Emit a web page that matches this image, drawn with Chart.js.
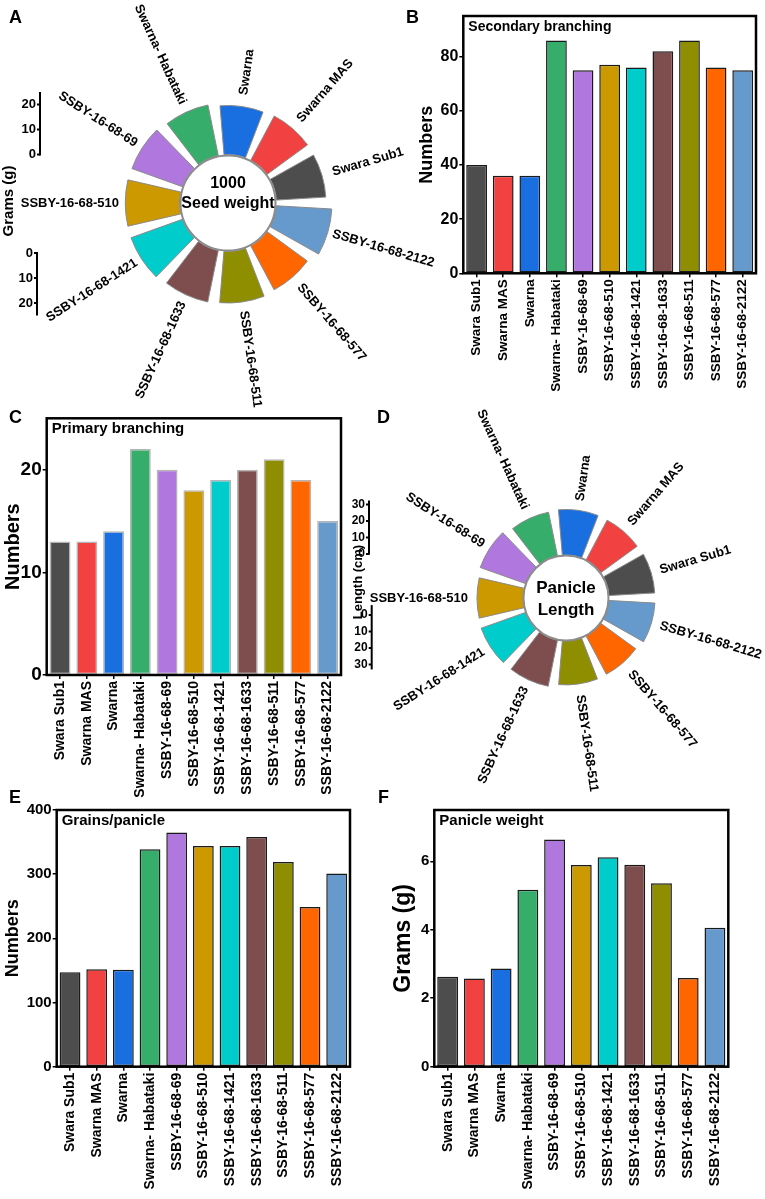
<!DOCTYPE html>
<html>
<head>
<meta charset="utf-8">
<title>Panicle traits</title>
<script src="https://cdn.jsdelivr.net/npm/chart.js@4.4.1/dist/chart.umd.min.js"></script>
<style>
  html, body { margin: 0; padding: 0; background: #fff; }
  #page { position: relative; width: 765px; height: 1199px; overflow: hidden; font-family: 'Liberation Sans', Arial, sans-serif; }
  #page canvas { position: absolute; }
  .tag { position: absolute; font-weight: bold; font-size: 18px; line-height: 18px; color: #000; }
</style>
</head>
<body>
<div id="page">
  <canvas id="seedChart" width="450" height="420" style="left:0;top:0"></canvas>
  <canvas id="secChart" width="349" height="400" style="left:416px;top:0"></canvas>
  <canvas id="primChart" width="379" height="395" style="left:1px;top:405px"></canvas>
  <canvas id="lenChart" width="425" height="400" style="left:340px;top:400px"></canvas>
  <canvas id="grainChart" width="378" height="399" style="left:2px;top:800px"></canvas>
  <canvas id="weightChart" width="375" height="399" style="left:390px;top:800px"></canvas>
  <div class="tag" style="left:9px;top:8px">A</div>
  <div class="tag" style="left:406px;top:8px">B</div>
  <div class="tag" style="left:9px;top:408px">C</div>
  <div class="tag" style="left:377px;top:408px">D</div>
  <div class="tag" style="left:9px;top:788px">E</div>
  <div class="tag" style="left:378px;top:788px">F</div>
</div>
<script>
// ---- data
const categories = ['Swara Sub1', 'Swarna MAS', 'Swarna', 'Swarna- Habataki', 'SSBY-16-68-69',
  'SSBY-16-68-510', 'SSBY-16-68-1421', 'SSBY-16-68-1633', 'SSBY-16-68-511', 'SSBY-16-68-577', 'SSBY-16-68-2122'];
const barColors = ['#4D4D4D', '#F24141', '#1A6FE0', '#36AD6B', '#B078DF', '#CC9900',
  '#00CCCC', '#7E4E4E', '#8E8E00', '#FF6600', '#6699CC'];

const seedWeight = [19.8, 20.0, 19.6, 20.6, 21.4, 21.7, 21.8, 21.0, 20.6, 19.9, 22.2];      // g, panel A
const secondaryBranching = [40, 36, 36, 86, 75, 77, 76, 82, 86, 76, 75];                     // panel B
const primaryBranching = [13, 13, 14, 22, 20, 18, 19, 20, 21, 19, 15];                       // panel C
const panicleLength = [27.8, 27.3, 27.6, 27.0, 29.1, 27.9, 28.5, 28.5, 26.6, 26.2, 27.9];    // cm, panel D
const grainsPerPanicle = [147, 152, 151, 339, 365, 344, 344, 358, 319, 249, 301];            // panel E
const panicleWeight = [2.63, 2.58, 2.87, 5.17, 6.64, 5.89, 6.12, 5.90, 5.36, 2.59, 4.06];    // g, panel F

const seedTicks = [0, 10, 20];
const lengthTicks = [0, 10, 20, 30];

const FONT = "'Liberation Sans', Arial, sans-serif";
Chart.defaults.font.family = FONT;
Chart.defaults.color = '#000';

// frame round the plot area + the title written inside it
function framePlugin(text, size) {
  return {
    id: 'frame',
    afterDraw(chart) {
      const {ctx, chartArea: a} = chart;
      ctx.save();
      ctx.lineWidth = 2.5;
      ctx.strokeStyle = '#000';
      ctx.strokeRect(a.left, a.top, a.right - a.left, a.bottom - a.top);
      ctx.fillStyle = '#000';
      ctx.font = 'bold ' + size + 'px ' + FONT;
      ctx.textAlign = 'left';
      ctx.textBaseline = 'middle';
      ctx.fillText(text, a.left + 5, a.top + 11);
      ctx.restore();
    }
  };
}

function barPanel(id, values, p) {
  const tickGrid = {display: true, drawOnChartArea: false, tickLength: 4, color: '#000', lineWidth: 1.5};
  new Chart(document.getElementById(id), {
    type: 'bar',
    data: {
      labels: categories,
      datasets: [{
        data: values,
        backgroundColor: barColors,
        borderColor: p.barBorder,
        borderWidth: 1.5,
        borderSkipped: false,
        barPercentage: 0.78,
        categoryPercentage: 1
      }]
    },
    options: {
      responsive: false,
      animation: false,
      layout: {padding: {top: p.padTop, right: p.padRight, left: 0, bottom: 0}},
      plugins: {legend: {display: false}, tooltip: {enabled: false}},
      scales: {
        x: {
          grid: Object.assign({offset: false}, tickGrid),
          border: {display: false},
          ticks: {autoSkip: false, maxRotation: 90, minRotation: 90, padding: 2,
            font: {size: p.xFont, weight: 'bold'}},
          afterFit: s => { s.height = p.xH; }
        },
        y: {
          min: 0, max: p.yMax, bounds: 'data',
          grid: tickGrid,
          border: {display: false},
          ticks: {stepSize: p.step, includeBounds: false, padding: 1, font: {size: p.yFont, weight: 'bold'}},
          title: {display: true, text: p.yTitle, padding: 0, font: {size: p.titleFont, weight: 'bold'}},
          // only the round steps get a label, not the top of the range
          afterBuildTicks: s => {
            s.ticks = s.ticks.filter(t => Math.abs(t.value / p.step - Math.round(t.value / p.step)) < 1e-6);
          },
          afterFit: s => { s.width = p.yW; }
        }
      }
    },
    plugins: [framePlugin(p.label, p.labelFont)]
  });
}

// circular bar panels (A, D)
function ringPlugin(cfg) {
  return {
    id: 'ring',
    beforeDatasetsDraw(chart) {
      // turn the polar wedges into bars that start at value 0
      const scale = chart.scales.r;
      const vals = chart.data.datasets[0].data;
      const base = scale.getDistanceFromCenterForValue(0);
      chart.getDatasetMeta(0).data.forEach((arc, i) => {
        arc.innerRadius = base - cfg.gap / 2;
        arc.outerRadius = scale.getDistanceFromCenterForValue(vals[i]) - cfg.gap / 2;
      });
    },
    afterDraw(chart) {
      const ctx = chart.ctx;
      const scale = chart.scales.r;
      const cx = scale.xCenter, cy = scale.yCenter;
      const per10 = scale.getDistanceFromCenterForValue(10) - scale.getDistanceFromCenterForValue(0);
      ctx.save();
      ctx.beginPath();
      ctx.arc(cx, cy, cfg.discR, 0, Math.PI * 2);
      ctx.fillStyle = '#fff';
      ctx.fill();
      ctx.lineWidth = 2;
      ctx.strokeStyle = '#8c8c8c';
      ctx.stroke();

      ctx.fillStyle = '#000';
      ctx.textAlign = 'center';
      ctx.textBaseline = 'middle';
      ctx.font = 'bold ' + cfg.centerSize + 'px ' + FONT;
      cfg.centerText.forEach((t, k) => ctx.fillText(t, cx, cy + cfg.centerDy[k]));

      // names round the ring
      ctx.font = 'bold 13px ' + FONT;
      chart.getDatasetMeta(0).data.forEach((arc, i) => {
        const a = (arc.startAngle + arc.endAngle) / 2;
        ctx.save();
        ctx.translate(cx, cy);
        ctx.rotate(a);
        if (Math.cos(a) >= 0) {
          ctx.textAlign = 'left';
          ctx.fillText(chart.data.labels[i], cfg.labelR, 0);
        } else {
          ctx.rotate(Math.PI);
          ctx.textAlign = 'right';
          ctx.fillText(chart.data.labels[i], -cfg.labelR, 0);
        }
        ctx.restore();
      });

      // little scale bars at the left
      ctx.strokeStyle = '#000';
      ctx.lineWidth = 2;
      ctx.font = 'bold ' + cfg.tickSize + 'px ' + FONT;
      ctx.textAlign = 'right';
      cfg.bars.forEach(b => {
        const y = v => b.zeroY + b.dir * v * per10 / 10;
        ctx.beginPath();
        ctx.moveTo(b.x, y(b.from));
        ctx.lineTo(b.x, y(b.to));
        ctx.stroke();
        cfg.ticks.forEach(t => {
          ctx.beginPath();
          ctx.moveTo(b.x - 3, y(t));
          ctx.lineTo(b.x, y(t));
          ctx.stroke();
          ctx.fillText(String(t), b.x - 4, y(t));
        });
      });

      ctx.translate(cfg.titleX, cfg.titleY);
      ctx.rotate(-Math.PI / 2);
      ctx.textAlign = 'center';
      ctx.font = 'bold ' + cfg.titleSize + 'px ' + FONT;
      ctx.fillText(cfg.title, 0, 0);
      ctx.restore();
    }
  };
}

function ringPanel(id, values, cfg) {
  // the figure runs the groups anticlockwise, so feed them reversed
  const order = categories.map((c, i) => i).reverse();
  const rMin = -cfg.inner / cfg.pxPerUnit;
  new Chart(document.getElementById(id), {
    type: 'polarArea',
    data: {
      labels: order.map(i => categories[i]),
      datasets: [{
        data: order.map(i => values[i]),
        backgroundColor: order.map(i => barColors[i]),
        borderColor: '#8a8a8a',
        borderWidth: 1,
        spacing: cfg.gap
      }]
    },
    options: {
      responsive: false,
      animation: false,
      layout: {padding: cfg.padding},
      plugins: {legend: {display: false}, tooltip: {enabled: false}},
      scales: {
        r: {
          min: rMin,
          max: rMin + cfg.R / cfg.pxPerUnit,
          bounds: 'data',
          startAngle: 90,
          ticks: {display: false},
          grid: {display: false},
          angleLines: {display: false},
          pointLabels: {display: false}
        }
      }
    },
    plugins: [ringPlugin(cfg)]
  });
}

ringPanel('seedChart', seedWeight, {
  R: 120, inner: 48.5, pxPerUnit: 2.5, gap: 28,
  padding: {left: 108, top: 83, right: 102, bottom: 97},
  discR: 47.5, centerText: ['1000', 'Seed weight'], centerDy: [-19, 1], centerSize: 16,
  labelR: 109, tickSize: 13, ticks: seedTicks,
  bars: [{x: 40, zeroY: 154.5, dir: -1, from: -0.4, to: 25}, {x: 37, zeroY: 253, dir: 1, from: -0.4, to: 25}],
  title: 'Grams (g)', titleX: 9, titleY: 201, titleSize: 15
});

ringPanel('lenChart', panicleLength, {
  R: 110, inner: 43, pxPerUnit: 1.65, gap: 24,
  padding: {left: 116, top: 88, right: 89, bottom: 92},
  discR: 42.5, centerText: ['Panicle', 'Length'], centerDy: [-10, 12], centerSize: 17,
  labelR: 98, tickSize: 12, ticks: lengthTicks,
  bars: [{x: 29, zeroY: 154, dir: -1, from: -0.5, to: 32.5}, {x: 31.7, zeroY: 215, dir: 1, from: -6, to: 33}],
  title: 'Length (cm)', titleX: 18, titleY: 182, titleSize: 13
});

barPanel('secChart', secondaryBranching, {
  yMax: 95, step: 20, yTitle: 'Numbers', titleFont: 18, yFont: 16, xFont: 13.5,
  label: 'Secondary branching', labelFont: 14, barBorder: '#1a1a1a',
  yW: 47.3, xH: 126.7, padTop: 16, padRight: 9
});

barPanel('primChart', primaryBranching, {
  yMax: 25, step: 10, yTitle: 'Numbers', titleFont: 20, yFont: 19, xFont: 14,
  label: 'Primary branching', labelFont: 15, barBorder: 'rgba(150,150,150,0.7)',
  yW: 45.7, xH: 125, padTop: 13.3, padRight: 39
});

barPanel('grainChart', grainsPerPanicle, {
  yMax: 400, step: 100, yTitle: 'Numbers', titleFont: 18, yFont: 15, xFont: 14,
  label: 'Grains/panicle', labelFont: 15, barBorder: '#1a1a1a',
  yW: 54.7, xH: 132.3, padTop: 10, padRight: 30
});

barPanel('weightChart', panicleWeight, {
  yMax: 7.5, step: 2, yTitle: 'Grams (g)', titleFont: 23, yFont: 15, xFont: 14,
  label: 'Panicle weight', labelFont: 15, barBorder: '#1a1a1a',
  yW: 44.3, xH: 132.3, padTop: 10, padRight: 36.7
});
</script>
</body>
</html>
